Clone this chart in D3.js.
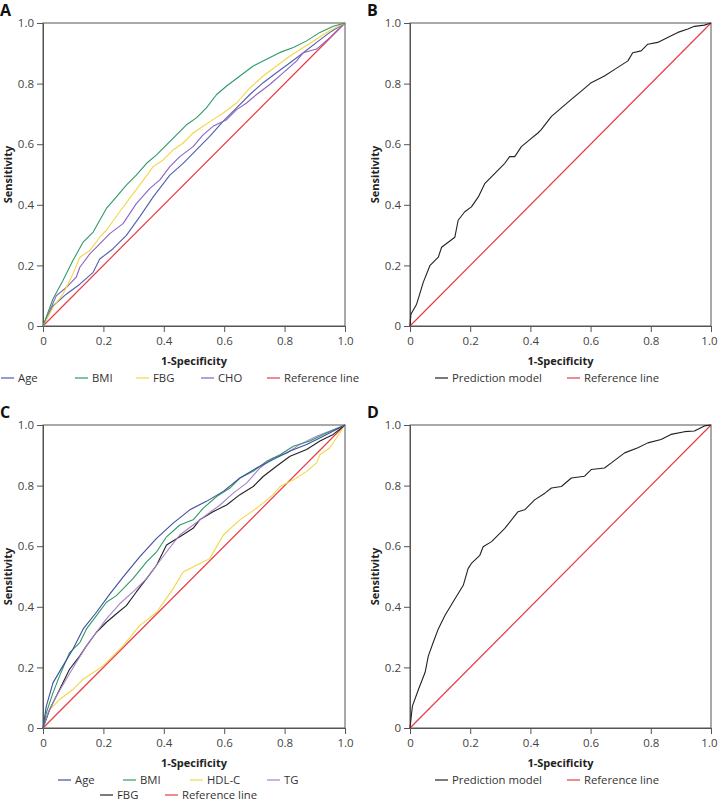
<!DOCTYPE html>
<html>
<head>
<meta charset="utf-8">
<script src="https://cdn.jsdelivr.net/npm/d3@7/dist/d3.min.js"></script>
<style>
  html, body { margin: 0; padding: 0; background: #fff; }
  svg { display: block; }
  text { font-family: "Open Sans", "Noto Sans", sans-serif; }
</style>
</head>
<body>
<svg id="chart" width="718" height="801"></svg>
<script>
// ---------- DATA ----------
const ticks = [0, 0.2, 0.4, 0.6, 0.8, 1.0];
const tickLabels = ["0", "0.2", "0.4", "0.6", "0.8", "1.0"];
const referenceLine = [[0, 0], [1, 1]];

// Panel A
const aAge = [[0,0],[.033,.066],[.077,.105],[.122,.138],[.166,.177],[.188,.221],[.232,.255],[.276,.299],[.32,.36],[.365,.426],[.42,.498],[.464,.537],[.508,.581],[.552,.626],[.597,.676],[.641,.72],[.685,.764],[.729,.803],[.773,.836],[.818,.869],[.862,.902],[.906,.936],[.95,.969],[1,1]];
const aBMI = [[0,0],[.033,.089],[.066,.15],[.099,.216],[.133,.277],[.166,.31],[.188,.349],[.21,.388],[.243,.426],[.276,.465],[.309,.498],[.343,.537],[.376,.565],[.409,.598],[.442,.631],[.475,.664],[.508,.687],[.541,.72],[.575,.764],[.608,.792],[.652,.825],[.696,.858],[.74,.88],[.785,.903],[.829,.919],[.873,.941],[.917,.969],[.961,.989],[1,1]];
const aFBG = [[0,0],[.033,.061],[.066,.105],[.099,.172],[.122,.227],[.155,.249],[.188,.293],[.21,.316],[.254,.377],[.287,.421],[.32,.465],[.365,.526],[.398,.548],[.431,.581],[.464,.604],[.497,.637],[.53,.659],[.563,.681],[.597,.703],[.641,.736],[.685,.786],[.729,.825],[.773,.858],[.818,.891],[.862,.919],[.906,.947],[.95,.975],[1,1]];
const aCHO = [[0,0],[.022,.05],[.044,.1],[.077,.127],[.11,.161],[.122,.194],[.155,.238],[.188,.271],[.221,.305],[.265,.338],[.309,.404],[.354,.454],[.387,.482],[.42,.526],[.453,.559],[.497,.592],[.53,.631],[.563,.659],[.608,.681],[.641,.714],[.674,.736],[.707,.764],[.751,.797],[.796,.836],[.84,.875],[.862,.902],[.906,.914],[.95,.952],[1,1]];

// Panel B
const bModel = [[0,0],[.003,.039],[.022,.072],[.044,.144],[.066,.199],[.094,.227],[.105,.26],[.149,.293],[.16,.349],[.182,.377],[.204,.393],[.227,.426],[.249,.471],[.282,.504],[.315,.537],[.331,.559],[.348,.559],[.37,.592],[.398,.615],[.425,.637],[.436,.648],[.47,.692],[.503,.72],[.536,.748],[.569,.775],[.602,.803],[.646,.825],[.68,.847],[.724,.875],[.74,.902],[.768,.908],[.79,.93],[.823,.936],[.856,.952],[.89,.969],[.923,.98],[.945,.989],[.978,.993],[1,1]];

// Panel C
const cAge = [[0,0],[.011,.072],[.033,.149],[.066,.205],[.099,.26],[.133,.327],[.177,.382],[.221,.442],[.265,.498],[.32,.565],[.376,.626],[.431,.676],[.486,.72],[.541,.748],[.597,.781],[.652,.825],[.707,.858],[.762,.886],[.818,.914],[.873,.936],[.928,.963],[1,1]];
const cBMI = [[0,0],[.011,.05],[.033,.116],[.055,.172],[.088,.249],[.122,.282],[.144,.327],[.177,.371],[.21,.415],[.243,.437],[.298,.493],[.343,.548],[.376,.581],[.409,.631],[.453,.67],[.497,.687],[.53,.725],[.575,.764],[.619,.792],[.652,.825],[.696,.847],[.74,.88],[.785,.902],[.829,.93],[.884,.947],[.928,.969],[1,1]];
const cHDLC = [[0,0],[.022,.061],[.055,.094],[.099,.127],[.133,.161],[.199,.205],[.265,.271],[.32,.338],[.376,.382],[.431,.46],[.464,.515],[.508,.537],[.552,.559],[.597,.637],[.652,.687],[.707,.725],[.762,.77],[.785,.797],[.829,.819],[.873,.847],[.906,.875],[.917,.902],[.95,.925],[.972,.958],[1,1]];
const cTG = [[0,0],[.017,.05],[.044,.105],[.077,.161],[.11,.216],[.144,.271],[.177,.316],[.21,.36],[.254,.41],[.298,.449],[.343,.493],[.376,.537],[.409,.581],[.453,.637],[.497,.67],[.541,.703],[.586,.736],[.63,.775],[.674,.808],[.718,.858],[.762,.891],[.807,.907],[.851,.936],[.906,.963],[1,1]];
const cFBG = [[0,0],[.022,.061],[.055,.127],[.088,.194],[.122,.238],[.144,.271],[.177,.316],[.21,.349],[.243,.377],[.276,.404],[.309,.449],[.343,.493],[.376,.537],[.409,.604],[.453,.631],[.497,.659],[.519,.687],[.563,.714],[.608,.736],[.652,.77],[.696,.797],[.729,.83],[.773,.864],[.818,.897],[.873,.919],[.917,.947],[.961,.969],[1,1]];

// Panel D
const dModel = [[0,0],[.008,.072],[.028,.127],[.05,.183],[.061,.238],[.077,.282],[.094,.327],[.116,.371],[.149,.426],[.177,.471],[.193,.526],[.204,.543],[.232,.57],[.243,.598],[.271,.615],[.315,.659],[.359,.714],[.381,.72],[.414,.753],[.448,.775],[.47,.792],[.503,.797],[.536,.825],[.58,.831],[.602,.853],[.646,.858],[.669,.875],[.713,.908],[.757,.925],[.79,.941],[.834,.952],[.867,.969],[.912,.978],[.945,.98],[.978,.997],[1,1]];

// ---------- STYLE ----------
const col = {
  red: "#e63c46",
  aAge: "#4f60ad", aBMI: "#2f9a68", aFBG: "#f5d547", aCHO: "#8c62c4",
  cAge: "#3d4f9f", cBMI: "#2f9a68", cHDLC: "#f5d547", cTG: "#a783cb", cFBG: "#222222",
  black: "#222222"
};

const svg = d3.select("#chart");
const W = 718;

function panel(cfg) {
  const x = d3.scaleLinear().domain([0, 1]).range([cfg.x0, cfg.x1]);
  const y = d3.scaleLinear().domain([0, 1]).range([cfg.y1, cfg.y0]);
  const g = svg.append("g");

  g.append("rect").attr("x", cfg.x0).attr("y", cfg.y0)
    .attr("width", cfg.x1 - cfg.x0).attr("height", cfg.y1 - cfg.y0)
    .attr("fill", "none").attr("stroke", "#555").attr("stroke-width", 1);

  const xa = g.append("g").attr("transform", `translate(0,${cfg.y1})`)
    .call(d3.axisBottom(x).tickValues(ticks).tickFormat((d, i) => tickLabels[i]).tickSize(6).tickPadding(5));
  const ya = g.append("g").attr("transform", `translate(${cfg.x0},0)`)
    .call(d3.axisLeft(y).tickValues(ticks).tickFormat((d, i) => tickLabels[i]).tickSize(6).tickPadding(3));
  [xa, ya].forEach(a => {
    a.select(".domain").attr("stroke", "#555");
    a.selectAll(".tick line").attr("stroke", "#555");
    a.selectAll(".tick text").attr("fill", "#444").style("font-size", "11.5px")
      .style("font-family", "'Open Sans', sans-serif");
  });
  xa.selectAll(".tick text").each(function (d) {
    const t = d3.select(this);
    const bb = this.getBBox();
    const absRight = x(d) + bb.x + bb.width;
    if (absRight > W - 1) t.attr("dx", (W - 1 - absRight) + "px");
  });

  const line = d3.line().x(d => x(d[0])).y(d => y(d[1]));
  g.append("path").datum(referenceLine).attr("d", line)
    .attr("fill", "none").attr("stroke", col.red).attr("stroke-width", 1.2);
  cfg.series.forEach(s => {
    g.append("path").datum(s.data).attr("d", line)
      .attr("fill", "none").attr("stroke", s.color).attr("stroke-width", 1.1)
      .attr("stroke-linejoin", "round");
  });

  g.append("text").attr("x", cfg.lx).attr("y", cfg.y0 - 7)
    .attr("font-weight", "bold").attr("font-size", "16px").attr("fill", "#111")
    .text(cfg.letter);

  g.append("text").attr("x", (cfg.x0 + cfg.x1) / 2).attr("y", cfg.y1 + 39)
    .attr("text-anchor", "middle").attr("font-weight", "bold").attr("font-size", "11px")
    .attr("fill", "#222").text("1-Specificity");
  g.append("text").attr("transform", `translate(${cfg.x0 - 31},${(cfg.y0 + cfg.y1) / 2}) rotate(-90)`)
    .attr("text-anchor", "middle").attr("font-weight", "bold").attr("font-size", "11px")
    .attr("fill", "#222").text("Sensitivity");

  cfg.legend.forEach(l => {
    g.append("line").attr("x1", l.x).attr("x2", l.x + 13).attr("y1", l.y).attr("y2", l.y)
      .attr("stroke", l.color).attr("stroke-width", 1.2);
    g.append("text").attr("x", l.x + 17).attr("y", l.y + 4)
      .attr("font-size", "11.3px").attr("fill", "#333").text(l.name);
  });
}

const topY0 = 23, topY1 = 326, botY0 = 425, botY1 = 728;
const leftX0 = 43, leftX1 = 345, rightX0 = 410, rightX1 = 711;

panel({
  letter: "A", lx: 0, x0: leftX0, x1: leftX1, y0: topY0, y1: topY1,
  series: [
    { data: aAge, color: col.aAge },
    { data: aCHO, color: col.aCHO },
    { data: aFBG, color: col.aFBG },
    { data: aBMI, color: col.aBMI }
  ],
  legend: [
    { name: "Age", color: col.aAge, x: 1, y: 378 },
    { name: "BMI", color: col.aBMI, x: 75, y: 378 },
    { name: "FBG", color: col.aFBG, x: 136, y: 378 },
    { name: "CHO", color: col.aCHO, x: 201, y: 378 },
    { name: "Reference line", color: col.red, x: 267, y: 378 }
  ]
});

panel({
  letter: "B", lx: 367, x0: rightX0, x1: rightX1, y0: topY0, y1: topY1,
  series: [{ data: bModel, color: col.black }],
  legend: [
    { name: "Prediction model", color: col.black, x: 435, y: 378 },
    { name: "Reference line", color: col.red, x: 567, y: 378 }
  ]
});

panel({
  letter: "C", lx: 0, x0: leftX0, x1: leftX1, y0: botY0, y1: botY1,
  series: [
    { data: cHDLC, color: col.cHDLC },
    { data: cFBG, color: col.cFBG },
    { data: cTG, color: col.cTG },
    { data: cBMI, color: col.cBMI },
    { data: cAge, color: col.cAge }
  ],
  legend: [
    { name: "Age", color: col.cAge, x: 58, y: 780 },
    { name: "BMI", color: col.cBMI, x: 123, y: 780 },
    { name: "HDL-C", color: col.cHDLC, x: 190, y: 780 },
    { name: "TG", color: col.cTG, x: 267, y: 780 },
    { name: "FBG", color: col.cFBG, x: 100, y: 795 },
    { name: "Reference line", color: col.red, x: 165, y: 795 }
  ]
});

panel({
  letter: "D", lx: 367, x0: rightX0, x1: rightX1, y0: botY0, y1: botY1,
  series: [{ data: dModel, color: col.black }],
  legend: [
    { name: "Prediction model", color: col.black, x: 435, y: 780 },
    { name: "Reference line", color: col.red, x: 567, y: 780 }
  ]
});
</script>
</body>
</html>
